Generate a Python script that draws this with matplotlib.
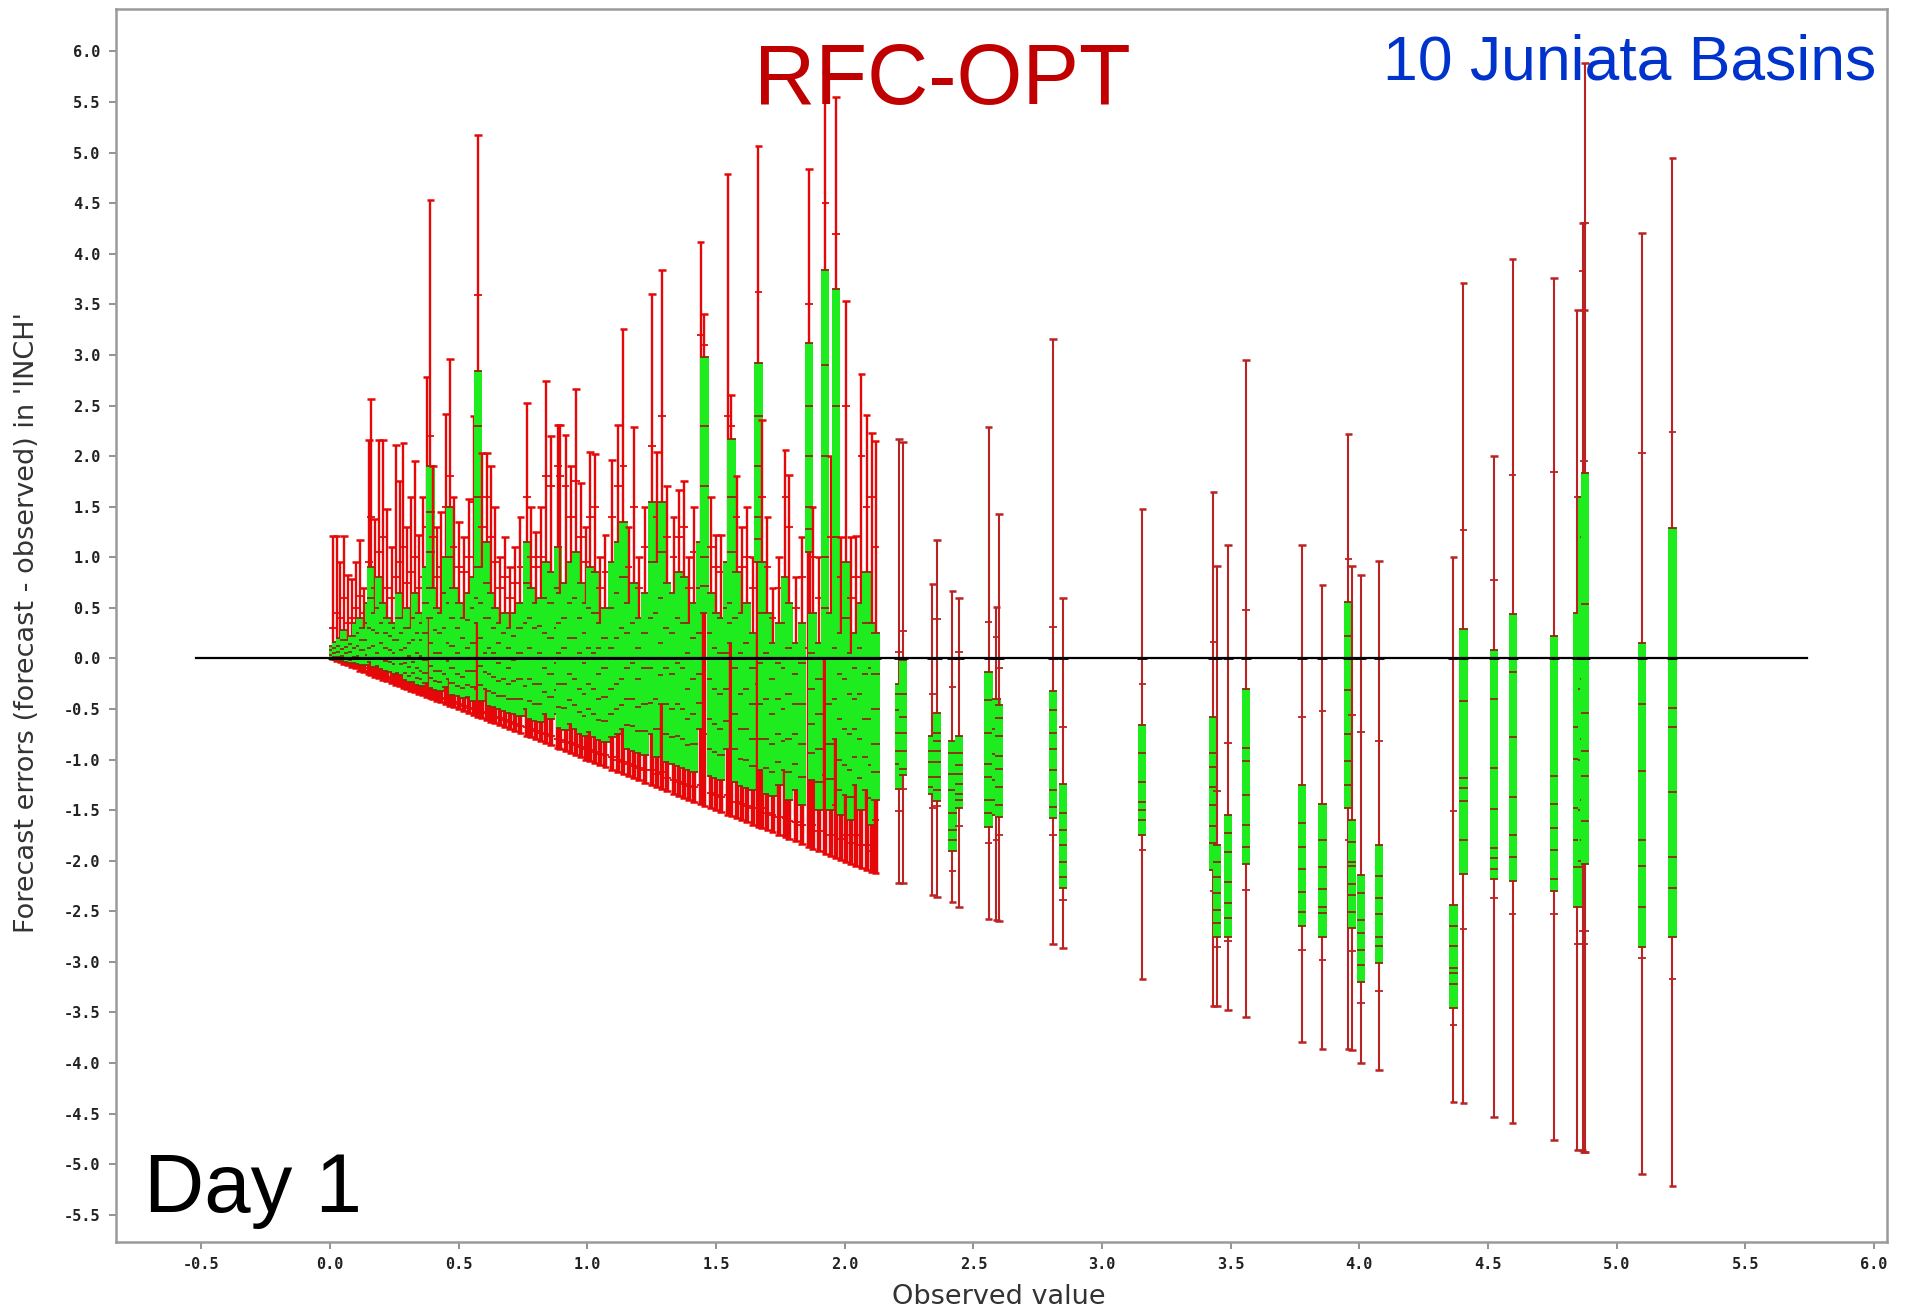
import matplotlib
matplotlib.use('Agg')
import matplotlib.pyplot as plt

# each bar: (observed, max, upper tick, box top, box bottom, lower tick, min)
# forecast errors in inches, day 1, dense part of the sample (obs < 2.2)
dense_bars = [
    (0.010, 1.21, 0.30, 0.12, -0.01, -0.01, -0.01),
    (0.025, 1.21, 0.45, 0.16, -0.02, -0.02, -0.03),
    (0.040, 0.95, 0.40, 0.20, -0.02, -0.03, -0.04),
    (0.055, 1.21, 0.60, 0.28, -0.03, -0.04, -0.06),
    (0.070, 0.82, 0.35, 0.18, -0.04, -0.05, -0.07),
    (0.085, 0.78, 0.40, 0.22, -0.05, -0.07, -0.09),
    (0.100, 0.95, 0.50, 0.35, -0.05, -0.08, -0.10),
    (0.115, 1.17, 0.62, 0.40, -0.06, -0.09, -0.12),
    (0.130, 0.70, 0.45, 0.30, -0.07, -0.10, -0.13),
    (0.150, 2.16, 0.95, 0.55, -0.07, -0.12, -0.15),
    (0.160, 2.56, 1.40, 0.90, -0.04, -0.11, -0.16),
    (0.175, 1.38, 0.70, 0.45, -0.09, -0.14, -0.18),
    (0.190, 2.16, 1.05, 0.80, -0.08, -0.15, -0.19),
    (0.205, 2.16, 1.20, 0.55, -0.11, -0.17, -0.21),
    (0.220, 1.48, 0.70, 0.40, -0.12, -0.18, -0.22),
    (0.240, 1.10, 0.60, 0.35, -0.13, -0.20, -0.24),
    (0.255, 2.11, 0.80, 0.30, -0.15, -0.22, -0.26),
    (0.270, 1.75, 0.95, 0.65, -0.14, -0.22, -0.27),
    (0.285, 2.13, 1.10, 0.40, -0.16, -0.24, -0.29),
    (0.300, 1.30, 0.75, 0.50, -0.21, -0.27, -0.30),
    (0.315, 1.60, 0.85, 0.30, -0.23, -0.29, -0.32),
    (0.330, 1.95, 1.00, 0.65, -0.23, -0.30, -0.33),
    (0.345, 1.22, 0.70, 0.45, -0.26, -0.32, -0.35),
    (0.360, 1.60, 0.80, 0.35, -0.27, -0.33, -0.36),
    (0.375, 2.78, 1.30, 0.90, -0.24, -0.34, -0.38),
    (0.390, 4.53, 2.20, 1.90, 0.40, -0.25, -0.39),
    (0.400, 1.90, 1.20, 0.70, -0.29, -0.36, -0.40),
    (0.415, 1.30, 0.80, 0.50, -0.31, -0.38, -0.42),
    (0.430, 1.45, 0.90, 0.45, -0.32, -0.39, -0.43),
    (0.450, 2.42, 1.50, 1.00, -0.28, -0.40, -0.45),
    (0.465, 2.96, 1.80, 1.50, -0.20, -0.40, -0.47),
    (0.480, 1.60, 1.10, 0.70, -0.36, -0.43, -0.48),
    (0.500, 1.35, 0.90, 0.55, -0.37, -0.45, -0.50),
    (0.520, 1.20, 0.85, 0.40, -0.39, -0.47, -0.52),
    (0.540, 1.58, 1.00, 0.65, -0.38, -0.49, -0.54),
    (0.560, 2.40, 1.55, 0.80, -0.42, -0.50, -0.56),
    (0.575, 5.17, 3.59, 2.84, 0.35, -0.30, -0.58),
    (0.590, 2.03, 1.30, 0.90, -0.42, -0.53, -0.59),
    (0.610, 2.03, 1.60, 1.15, -0.30, -0.54, -0.61),
    (0.625, 1.90, 1.20, 0.65, -0.47, -0.56, -0.63),
    (0.640, 1.50, 0.95, 0.50, -0.48, -0.58, -0.64),
    (0.660, 1.00, 0.70, 0.35, -0.50, -0.59, -0.66),
    (0.680, 1.20, 0.80, 0.45, -0.52, -0.61, -0.68),
    (0.700, 0.90, 0.60, 0.30, -0.54, -0.63, -0.70),
    (0.720, 1.10, 0.75, 0.45, -0.55, -0.65, -0.72),
    (0.740, 1.40, 0.90, 0.55, -0.57, -0.67, -0.74),
    (0.765, 2.52, 1.60, 1.15, -0.50, -0.68, -0.77),
    (0.780, 1.50, 1.00, 0.70, -0.60, -0.70, -0.78),
    (0.800, 1.25, 0.90, 0.55, -0.62, -0.72, -0.80),
    (0.820, 1.50, 1.00, 0.60, -0.63, -0.74, -0.82),
    (0.840, 2.74, 1.80, 0.95, -0.55, -0.75, -0.84),
    (0.860, 2.20, 1.70, 0.85, -0.60, -0.77, -0.86),
    (0.885, 2.31, 1.90, 1.10, -0.55, -0.80, -0.89),
    (0.895, 2.31, 1.80, 0.65, -0.69, -0.81, -0.90),
    (0.915, 2.21, 1.70, 0.75, -0.71, -0.83, -0.92),
    (0.935, 1.90, 1.40, 0.95, -0.65, -0.84, -0.94),
    (0.955, 2.66, 1.75, 1.05, -0.70, -0.86, -0.96),
    (0.975, 1.73, 1.20, 0.75, -0.75, -0.88, -0.98),
    (0.995, 1.30, 0.95, 0.55, -0.77, -0.90, -1.00),
    (1.010, 2.04, 1.40, 0.90, -0.73, -0.91, -1.01),
    (1.030, 2.02, 1.50, 0.85, -0.78, -0.93, -1.03),
    (1.050, 1.00, 0.70, 0.35, -0.81, -0.95, -1.05),
    (1.070, 1.22, 0.85, 0.50, -0.83, -0.96, -1.07),
    (1.095, 1.96, 1.40, 0.95, -0.78, -0.98, -1.10),
    (1.120, 2.31, 1.70, 1.15, -0.75, -1.00, -1.12),
    (1.140, 3.26, 1.90, 1.35, -0.70, -1.02, -1.14),
    (1.160, 1.30, 0.90, 0.55, -0.90, -1.04, -1.16),
    (1.180, 2.29, 1.50, 0.75, -0.92, -1.06, -1.18),
    (1.200, 1.00, 0.70, 0.40, -0.94, -1.08, -1.20),
    (1.225, 1.50, 1.10, 0.65, -0.96, -1.10, -1.23),
    (1.250, 3.60, 2.10, 1.55, -0.75, -1.10, -1.25),
    (1.270, 2.04, 1.40, 0.95, -0.98, -1.14, -1.27),
    (1.290, 3.84, 2.40, 1.55, -0.45, -1.12, -1.29),
    (1.310, 1.70, 1.20, 0.75, -1.02, -1.18, -1.31),
    (1.335, 1.40, 1.00, 0.65, -1.04, -1.20, -1.34),
    (1.355, 1.66, 1.20, 0.85, -1.06, -1.22, -1.36),
    (1.375, 1.75, 1.30, 0.80, -1.08, -1.24, -1.38),
    (1.395, 1.00, 0.70, 0.35, -1.10, -1.26, -1.40),
    (1.415, 1.50, 1.05, 0.55, -1.12, -1.27, -1.42),
    (1.440, 4.12, 3.20, 1.15, -0.70, -1.25, -1.44),
    (1.455, 3.40, 3.10, 2.98, 0.45, -0.75, -1.46),
    (1.480, 1.60, 1.10, 0.65, -1.16, -1.33, -1.48),
    (1.500, 1.22, 0.90, 0.45, -1.18, -1.35, -1.50),
    (1.520, 1.22, 0.85, 0.40, -1.20, -1.37, -1.52),
    (1.545, 4.79, 2.40, 0.95, -0.90, -1.35, -1.55),
    (1.560, 2.60, 2.30, 2.17, 0.15, -0.95, -1.56),
    (1.580, 1.80, 1.40, 0.85, -1.22, -1.42, -1.58),
    (1.600, 1.30, 0.90, 0.45, -1.26, -1.44, -1.60),
    (1.620, 1.50, 1.00, 0.55, -1.28, -1.46, -1.62),
    (1.645, 1.00, 0.70, 0.25, -1.30, -1.48, -1.65),
    (1.665, 5.07, 3.62, 2.92, 0.95, -0.25, -1.67),
    (1.680, 2.36, 1.60, 0.95, -1.10, -1.48, -1.68),
    (1.700, 1.40, 0.90, 0.45, -1.34, -1.53, -1.70),
    (1.720, 0.70, 0.40, 0.15, -1.36, -1.55, -1.72),
    (1.745, 1.00, 0.70, 0.35, -1.25, -1.57, -1.75),
    (1.770, 2.06, 1.60, 0.80, -1.10, -1.58, -1.77),
    (1.785, 1.81, 1.30, 0.55, -1.40, -1.61, -1.79),
    (1.810, 0.80, 0.50, 0.15, -1.30, -1.62, -1.81),
    (1.835, 1.20, 0.80, 0.35, -1.45, -1.65, -1.84),
    (1.860, 4.84, 3.50, 3.12, 1.05, 0.10, -1.86),
    (1.875, 1.50, 1.00, 0.45, -1.20, -1.65, -1.88),
    (1.900, 1.00, 0.60, 0.15, -1.50, -1.71, -1.90),
    (1.925, 5.80, 4.50, 3.84, 0.00, -1.15, -1.93),
    (1.945, 2.00, 1.20, 0.45, -1.50, -1.75, -1.95),
    (1.965, 5.55, 4.20, 3.65, -0.80, -1.45, -1.97),
    (1.985, 1.20, 0.80, 0.25, -1.55, -1.79, -1.99),
    (2.005, 3.53, 2.50, 0.95, -1.35, -1.75, -2.01),
    (2.025, 1.20, 0.60, 0.05, -1.60, -1.83, -2.03),
    (2.045, 1.21, 0.80, 0.25, -1.25, -1.75, -2.05),
    (2.065, 2.81, 2.00, 0.55, -1.50, -1.85, -2.07),
    (2.085, 2.41, 1.50, 0.85, -1.30, -1.85, -2.09),
    (2.105, 2.23, 1.60, 0.35, -1.65, -1.90, -2.11),
    (2.120, 2.15, 1.10, 0.25, -1.40, -1.60, -2.12),
]

# member values drawn inside the dense boxes
dense_marks = [
    [0.08, 0.03, 0.00], [0.10, 0.05, 0.01], [0.12, 0.06, 0.01], [0.18, 0.09, 0.02],
    [0.11, 0.05, -0.01], [0.14, 0.06, -0.02], [0.22, 0.10, 0.01], [0.25, 0.12, 0.02],
    [0.18, 0.08, -0.01], [0.35, 0.18, 0.03], [0.60, 0.30, 0.10], [0.28, 0.12, 0.00],
    [0.50, 0.25, 0.05], [0.35, 0.15, 0.00], [0.25, 0.10, -0.03], [0.22, 0.08, -0.04],
    [0.18, 0.05, -0.06], [0.40, 0.18, 0.00], [0.25, 0.08, -0.06],
    [0.30, 0.10, -0.05, -0.14], [0.15, 0.02, -0.09, -0.17], [0.40, 0.18, -0.04, -0.14],
    [0.25, 0.05, -0.10, -0.19], [0.18, 0.02, -0.12, -0.20], [0.55, 0.25, -0.02, -0.14],
    [1.45, 1.05, 0.70, 0.55], [0.40, 0.15, -0.08, -0.19], [0.28, 0.05, -0.12, -0.22],
    [0.25, 0.05, -0.12, -0.23], [0.65, 0.30, 0.00, -0.15], [1.00, 0.55, 0.15, -0.03],
    [0.40, 0.12, -0.10, -0.24], [0.30, 0.05, -0.15, -0.27], [0.20, 0.00, -0.18, -0.29],
    [0.38, 0.10, -0.12, -0.26], [0.50, 0.15, -0.12, -0.28], [2.30, 1.60, 0.90, 0.60],
    [0.55, 0.20, -0.08, -0.26], [0.75, 0.40, 0.05, -0.13], [0.40, 0.10, -0.15, -0.32],
    [0.30, 0.05, -0.18, -0.34], [0.15, -0.05, -0.22, -0.37], [0.25, 0.00, -0.20, -0.37],
    [0.10, -0.10, -0.25, -0.40], [0.22, -0.02, -0.22, -0.40], [0.30, 0.05, -0.20, -0.40],
    [0.75, 0.35, 0.00, -0.27], [0.40, 0.10, -0.20, -0.42], [0.30, 0.00, -0.25, -0.45],
    [0.32, 0.05, -0.25, -0.45], [0.60, 0.25, -0.10, -0.33], [0.55, 0.20, -0.15, -0.38],
    [0.70, 0.30, -0.05, -0.31], [0.35, 0.05, -0.25, -0.48], [0.40, 0.10, -0.25, -0.49],
    [0.55, 0.20, -0.15, -0.41], [0.60, 0.20, -0.20, -0.46], [0.40, 0.05, -0.30, -0.53],
    [0.25, -0.05, -0.35, -0.57], [0.50, 0.10, -0.25, -0.50], [0.45, 0.05, -0.30, -0.55],
    [0.10, -0.15, -0.40, -0.61], [0.20, -0.10, -0.38, -0.62], [0.50, 0.10, -0.30, -0.55],
    [0.65, 0.20, -0.25, -0.50], [0.80, 0.30, -0.20, -0.46], [0.25, -0.10, -0.40, -0.66],
    [0.35, -0.05, -0.40, -0.67], [0.10, -0.20, -0.48, -0.72], [0.25, -0.10, -0.45, -0.72],
    [0.95, 0.40, -0.10, -0.44], [0.45, 0.00, -0.40, -0.70], [1.05, 0.60, 0.15, -0.16],
    [0.30, -0.10, -0.45, -0.75], [0.25, -0.15, -0.50, -0.78], [0.40, -0.05, -0.45, -0.77],
    [0.35, -0.10, -0.50, -0.80], [0.05, -0.30, -0.60, -0.86], [0.20, -0.20, -0.55, -0.85],
    [0.70, 0.25, -0.15, -0.44], [2.30, 1.70, 1.00, 0.72], [0.25, -0.20, -0.60, -0.90],
    [0.10, -0.30, -0.65, -0.93], [0.05, -0.35, -0.70, -0.96], [0.50, 0.05, -0.30, -0.62],
    [1.60, 1.05, 0.55, 0.35], [0.40, -0.10, -0.55, -0.90], [0.05, -0.35, -0.70, -0.99],
    [0.15, -0.30, -0.70, -1.00], [-0.10, -0.45, -0.80, -1.06], [2.40, 1.90, 1.40, 1.18],
    [0.45, -0.05, -0.45, -0.80], [0.05, -0.40, -0.80, -1.08], [-0.20, -0.55, -0.85, -1.12],
    [-0.05, -0.40, -0.75, -1.02], [0.35, -0.10, -0.50, -0.82], [0.10, -0.35, -0.80, -1.12],
    [-0.15, -0.45, -0.75, -1.04], [-0.05, -0.45, -0.85, -1.17], [2.50, 2.00, 1.50, 1.28],
    [0.05, -0.30, -0.65, -0.94], [-0.20, -0.55, -0.90, -1.22], [2.90, 2.00, 1.00, 0.50],
    [0.00, -0.45, -0.85, -1.19], [2.50, 1.20, 0.10, -0.40], [-0.15, -0.60, -1.00, -1.30],
    [0.40, -0.20, -0.70, -1.05], [-0.35, -0.75, -1.10, -1.37], [-0.10, -0.40, -0.70, -0.98],
    [0.10, -0.35, -0.80, -1.18], [0.35, -0.15, -0.60, -0.98], [-0.10, -0.60, -1.05, -1.38],
    [-0.15, -0.50, -0.85, -1.12],
]

# larger observations, one bar each
sparse_bars = [
    (2.211, 2.17, 0.06, -0.25, -1.29, -1.51, -2.22),
    (2.228, 2.14, 0.27, -0.02, -1.15, -1.29, -2.22),
    (2.341, 0.74, -0.35, -0.77, -1.34, -1.48, -2.34),
    (2.360, 1.17, 0.39, -0.54, -1.41, -1.46, -2.36),
    (2.419, 0.67, -0.28, -0.82, -1.90, -2.10, -2.41),
    (2.445, 0.60, 0.06, -0.77, -1.48, -1.66, -2.46),
    (2.559, 2.29, 0.36, -0.13, -1.67, -1.83, -2.58),
    (2.590, 0.51, 0.21, -0.40, -1.55, -1.80, -2.59),
    (2.601, 1.43, -0.10, -0.46, -1.57, -1.75, -2.60),
    (2.811, 3.16, 0.31, -0.32, -1.58, -1.75, -2.82),
    (2.848, 0.60, -0.68, -1.24, -2.27, -2.39, -2.86),
    (3.157, 1.48, -0.25, -0.66, -1.75, -1.89, -3.17),
    (3.433, 1.64, 0.16, -0.58, -2.09, -2.30, -3.44),
    (3.446, 0.91, -1.31, -1.85, -2.75, -2.85, -3.44),
    (3.489, 1.12, -0.84, -1.55, -2.75, -2.79, -3.48),
    (3.559, 2.95, 0.48, -0.30, -2.03, -2.29, -3.55),
    (3.776, 1.12, -0.58, -1.25, -2.65, -2.88, -3.79),
    (3.857, 0.73, -0.52, -1.44, -2.75, -2.98, -3.86),
    (3.958, 2.22, 0.98, 0.56, -1.48, -1.80, -3.86),
    (3.973, 0.91, -0.56, -1.60, -2.67, -2.89, -3.87),
    (4.006, 0.82, -0.73, -2.14, -3.20, -3.41, -4.00),
    (4.078, 0.96, -0.82, -1.85, -3.01, -3.29, -4.07),
    (4.366, 1.00, -1.51, -2.44, -3.46, -3.62, -4.39),
    (4.405, 3.71, 1.27, 0.29, -2.13, -2.68, -4.40),
    (4.525, 2.00, 0.77, 0.08, -2.18, -2.37, -4.53),
    (4.596, 3.95, 1.81, 0.44, -2.20, -2.53, -4.59),
    (4.757, 3.76, 1.84, 0.22, -2.30, -2.53, -4.76),
    (4.848, 3.44, 1.60, 0.45, -2.46, -2.82, -4.86),
    (4.868, 4.30, 3.83, 1.60, -2.00, -2.70, -4.86),
    (4.872, 3.44, 1.95, 1.20, -1.80, -2.82, -4.88),
    (4.878, 5.89, 4.30, 1.83, -2.03, -2.70, -4.88),
    (5.098, 4.21, 2.03, 0.15, -2.85, -2.96, -5.10),
    (5.217, 4.95, 2.24, 1.29, -2.75, -3.17, -5.22),
]

# member values drawn inside the boxes of the large observations
sparse_marks = [
    [-0.35, -0.51, -0.74, -0.92, -1.04],
    [-0.35, -0.58, -0.74, -0.92, -1.09],
    [-0.92, -1.02, -1.17, -1.27],
    [-0.74, -0.82, -0.92, -1.02, -1.17, -1.30],
    [-0.94, -1.14, -1.30, -1.53, -1.70, -1.80],
    [-0.94, -1.05, -1.14, -1.24, -1.34, -1.40],
    [-0.41, -0.74, -1.04, -1.17, -1.40, -1.53],
    [-0.70, -0.95, -1.20, -1.40],
    [-0.59, -0.77, -0.97, -1.09, -1.27, -1.45],
    [-0.51, -0.74, -0.90, -1.10, -1.30, -1.47],
    [-1.53, -1.70, -1.85, -2.01, -2.16],
    [-0.94, -1.22, -1.42, -1.50, -1.60],
    [-0.94, -1.07, -1.27, -1.45, -1.66, -1.83],
    [-2.01, -2.16, -2.32, -2.49, -2.62],
    [-1.73, -1.91, -2.21, -2.42, -2.57],
    [-0.89, -1.01, -1.35, -1.65, -1.86],
    [-1.63, -1.86, -2.08, -2.31, -2.51],
    [-1.80, -2.06, -2.28, -2.46, -2.52],
    [0.22, -0.31, -0.75, -1.01, -1.25],
    [-1.82, -2.01, -2.05, -2.23, -2.34, -2.51],
    [-2.32, -2.59, -2.72, -2.88, -3.03],
    [-2.15, -2.37, -2.53, -2.75, -2.84],
    [-2.65, -2.84, -3.06, -3.11, -3.22],
    [-0.42, -1.18, -1.28, -1.41, -1.80],
    [-0.40, -1.08, -1.49, -1.87, -1.97, -2.08],
    [-0.13, -0.78, -1.37, -1.75, -1.96],
    [-1.16, -1.44, -1.68, -1.89, -2.18],
    [-0.68, -0.99, -1.48, -1.80, -2.06],
    [-0.30, -1.00, -1.50],
    [-0.20, -0.80, -1.40],
    [0.54, -0.54, -0.92, -1.16, -1.61],
    [-0.45, -1.11, -1.80, -2.05, -2.46],
    [-0.49, -0.68, -1.32, -1.96, -2.27],
]

x_ticks = [-0.5, 0.0, 0.5, 1.0, 1.5, 2.0, 2.5, 3.0, 3.5, 4.0, 4.5, 5.0, 5.5, 6.0]
y_ticks = [-5.5, -5.0, -4.5, -4.0, -3.5, -3.0, -2.5, -2.0, -1.5, -1.0, -0.5,
           0.0, 0.5, 1.0, 1.5, 2.0, 2.5, 3.0, 3.5, 4.0, 4.5, 5.0, 5.5, 6.0]

MARK = '#8e2a0c'
GREEN = '#1eec1e'
BOX_W = 0.032
CAP_W = 0.030


def draw_bar(ax, row, marks, z, wcolor, up_lw, low_lw):
    x, mx, hi, top, bot, lo, mn = row
    # upper and lower whisker; the lower one is packed tight near the
    # forecast >= 0 limit, so it is drawn a bit heavier
    ax.vlines(x, top, mx, color=wcolor, lw=up_lw, zorder=z)
    ax.vlines(x, mn, bot, color=wcolor, lw=low_lw, zorder=z)
    ax.hlines([mn, mx], x - CAP_W / 2, x + CAP_W / 2, color=wcolor, lw=1.8, zorder=z)
    ax.hlines([lo, hi], x - CAP_W / 2, x + CAP_W / 2, color=wcolor, lw=1.3, zorder=z)
    ax.bar(x, top - bot, bottom=bot, width=BOX_W, color=GREEN, lw=0, zorder=z + 0.1)
    ax.hlines([bot, top] + list(marks), x - BOX_W / 2, x + BOX_W / 2,
              color=MARK, lw=1.3, zorder=z + 0.2)


fig = plt.figure(figsize=(19.1, 13.13), dpi=100)
ax = fig.add_axes([116 / 1910, 71 / 1313, 1771 / 1910, 1233 / 1313])

z = 2
for row, marks in zip(dense_bars, dense_marks):
    draw_bar(ax, row, marks, z, '#e60808', 1.7, 3.2)
    z += 0.5
for row, marks in zip(sparse_bars, sparse_marks):
    draw_bar(ax, row, marks, z, '#bb2222', 1.5, 1.5)
    z += 0.5

# zero-error reference line and observation markers
ax.plot([-0.52, 5.74], [0, 0], color='black', lw=1.6, zorder=z + 1)
obs = [r[0] for r in dense_bars + sparse_bars]
ax.plot(obs, [0] * len(obs), ls='none', marker='_', ms=7, mew=2.0,
        color='black', zorder=z + 1)

ax.set_xlim(-0.832, 6.051)
ax.set_ylim(-5.77, 6.42)
ax.set_xticks(x_ticks)
ax.set_yticks(y_ticks)
ax.set_xticklabels([f'{v:.1f}' for v in x_ticks])
ax.set_yticklabels([f'{v:.1f}' for v in y_ticks])
ax.tick_params(direction='out', length=5, width=1.3, color='#8a8a8a',
               labelsize=11, pad=6, labelcolor='#222222')
for lab in ax.get_xticklabels() + ax.get_yticklabels():
    lab.set_family('DejaVu Sans Mono')
    lab.set_weight('bold')
for sp in ax.spines.values():
    sp.set_color('#9a9a9a')
    sp.set_linewidth(1.8)

fig.text(999 / 1910, 1 - 1297 / 1313, 'Observed value', ha='center', va='center',
         fontsize=19.5, color='#333333', family='DejaVu Sans')
fig.text(27 / 1910, 1 - 622 / 1313, "Forecast errors (forecast - observed) in 'INCH'",
         ha='center', va='center', rotation=90, fontsize=19.5, color='#333333',
         family='DejaVu Sans')

fig.text(942 / 1910, 1 - 104 / 1313, 'RFC-OPT', ha='center', va='baseline',
         fontsize=61, color='#c00000', family='Liberation Sans')
fig.text(1876 / 1910, 1 - 80 / 1313, '10 Juniata Basins', ha='right', va='baseline',
         fontsize=45, color='#0033cc', family='Liberation Sans')
fig.text(144 / 1910, 1 - 1212 / 1313, 'Day 1', ha='left', va='baseline',
         fontsize=60, color='black', family='Liberation Sans')

fig.savefig('out.png', dpi=100, facecolor='white')
